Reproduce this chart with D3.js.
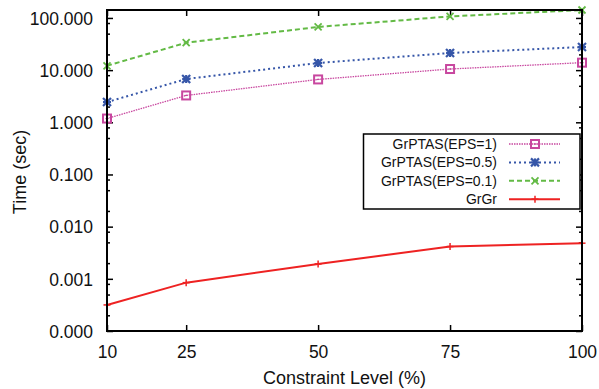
<!DOCTYPE html>
<html>
<head>
<meta charset="utf-8">
<script src="https://cdn.jsdelivr.net/npm/d3@7"></script>
<style>
  html, body { margin: 0; padding: 0; background: #fff; }
  svg text { font-family: "Liberation Sans", Arial, Helvetica, sans-serif; fill: #111; }
</style>
</head>
<body>
<svg id="chart" width="599" height="389"></svg>
<script>
// ---- Data ----
const categories = [10, 25, 50, 75, 100];
const xTickLabels = ["10", "25", "50", "75", "100"];
const yTickValues = [0.0001, 0.001, 0.01, 0.1, 1, 10, 100];
const yTickLabels = ["0.000", "0.001", "0.010", "0.100", "1.000", "10.000", "100.000"];
const seriesNames = ["GrPTAS(EPS=1)", "GrPTAS(EPS=0.5)", "GrPTAS(EPS=0.1)", "GrGr"];
const eps1 = [1.18, 3.27, 6.63, 10.5, 13.9];
const eps05 = [2.44, 6.75, 13.7, 21.3, 27.7];
const eps01 = [12.1, 33.6, 67.2, 107, 142];
const grgr = [0.000316, 0.000845, 0.00193, 0.00415, 0.00482];
const yDomain = [0.0001, 142];
const xDomain = [10, 100];

// ---- Styles ----
const styles = [
  { color: "#c8479f", width: 1.3, dash: "1.5,1", marker: "square" },
  { color: "#3656a8", width: 2, dash: "2,3", marker: "star" },
  { color: "#63ba45", width: 2, dash: "5,3", marker: "x" },
  { color: "#ee2222", width: 2, dash: null, marker: "plus" }
];
const seriesValues = [eps1, eps05, eps01, grgr];

const svg = d3.select("#chart");
const L = 107, R = 582, T = 10, B = 331;

const x = d3.scaleLinear().domain(xDomain).range([L, R]);
const y = d3.scaleLog().domain(yDomain).range([B, T]);

// minor ticks (2,5,8 per decade)
const minor = [];
for (let e = -4; e <= 2; e++) {
  [2, 5, 8].forEach(m => {
    const v = m * Math.pow(10, e);
    if (v > yDomain[0] && v < yDomain[1]) minor.push(v);
  });
}

const g = svg.append("g");

// Y axis left (labels + inward ticks)
const yAxisL = d3.axisLeft(y).tickValues(yTickValues)
  .tickFormat((d, i) => yTickLabels[i]).tickSize(-6).tickPadding(14);
const gyl = g.append("g").attr("transform", `translate(${L},0)`).call(yAxisL);
gyl.select(".domain").remove();
gyl.selectAll("text").style("font-size", "17.5px").attr("dy", "0.36em");
gyl.selectAll("line").attr("stroke", "#000").attr("stroke-width", 1.5);

const yMinorL = d3.axisLeft(y).tickValues(minor).tickFormat("").tickSize(-3);
const gml = g.append("g").attr("transform", `translate(${L},0)`).call(yMinorL);
gml.select(".domain").remove();
gml.selectAll("line").attr("stroke", "#000").attr("stroke-width", 1.5);

// Y axis right mirror
const yAxisR = d3.axisRight(y).tickValues(yTickValues).tickFormat("").tickSize(-6);
const gyr = g.append("g").attr("transform", `translate(${R},0)`).call(yAxisR);
gyr.select(".domain").remove();
gyr.selectAll("line").attr("stroke", "#000").attr("stroke-width", 1.5);
const yMinorR = d3.axisRight(y).tickValues(minor).tickFormat("").tickSize(-3);
const gmr = g.append("g").attr("transform", `translate(${R},0)`).call(yMinorR);
gmr.select(".domain").remove();
gmr.selectAll("line").attr("stroke", "#000").attr("stroke-width", 1.5);

// X axis bottom
const xAxisB = d3.axisBottom(x).tickValues(categories)
  .tickFormat((d, i) => xTickLabels[i]).tickSize(-6).tickPadding(14);
const gxb = g.append("g").attr("transform", `translate(0,${B})`).call(xAxisB);
gxb.select(".domain").remove();
gxb.selectAll("text").style("font-size", "17.5px").attr("dy", "0.72em");
gxb.selectAll("line").attr("stroke", "#000").attr("stroke-width", 1.5);

// X axis top mirror
const xAxisT = d3.axisTop(x).tickValues(categories).tickFormat("").tickSize(-6);
const gxt = g.append("g").attr("transform", `translate(0,${T})`).call(xAxisT);
gxt.select(".domain").remove();
gxt.selectAll("line").attr("stroke", "#000").attr("stroke-width", 1.5);

// Marker drawing
function drawMarker(sel, type, color) {
  if (type === "square") {
    sel.append("rect").attr("x", -4).attr("y", -4).attr("width", 8).attr("height", 8)
      .attr("fill", "none").attr("stroke", color).attr("stroke-width", 2);
    sel.append("line").attr("x1", -1.5).attr("x2", 1.5).attr("y1", 0).attr("y2", 0)
      .attr("stroke", color).attr("stroke-width", 1.2);
  } else if (type === "star") {
    const s = 4;
    [[-s, 0, s, 0], [0, -s, 0, s], [-s, -s, s, s], [-s, s, s, -s]].forEach(c => {
      sel.append("line").attr("x1", c[0]).attr("y1", c[1]).attr("x2", c[2]).attr("y2", c[3])
        .attr("stroke", color).attr("stroke-width", 2.2);
    });
  } else if (type === "x") {
    const s = 3.5;
    [[-s, -s, s, s], [-s, s, s, -s]].forEach(c => {
      sel.append("line").attr("x1", c[0]).attr("y1", c[1]).attr("x2", c[2]).attr("y2", c[3])
        .attr("stroke", color).attr("stroke-width", 1.8);
    });
  } else if (type === "plus") {
    const s = 3.5;
    [[-s, 0, s, 0], [0, -s, 0, s]].forEach(c => {
      sel.append("line").attr("x1", c[0]).attr("y1", c[1]).attr("x2", c[2]).attr("y2", c[3])
        .attr("stroke", color).attr("stroke-width", 1.5);
    });
  }
}

// Series lines
const line = d3.line().x((d, i) => x(categories[i])).y(d => y(d));
seriesValues.forEach((vals, si) => {
  const st = styles[si];
  const p = g.append("path").datum(vals).attr("d", line)
    .attr("fill", "none").attr("stroke", st.color).attr("stroke-width", st.width);
  if (st.dash) p.attr("stroke-dasharray", st.dash);
  vals.forEach((v, i) => {
    const mg = g.append("g").attr("transform", `translate(${x(categories[i])},${y(v)})`);
    drawMarker(mg, st.marker, st.color);
  });
});

// Frame
g.append("rect").attr("x", L).attr("y", T).attr("width", R - L).attr("height", B - T)
  .attr("fill", "none").attr("stroke", "#000").attr("stroke-width", 2);

// Legend
const lg = g.append("g");
lg.append("rect").attr("x", 363.5).attr("y", 134).attr("width", 216.5).attr("height", 75)
  .attr("fill", "#fff").attr("stroke", "#000").attr("stroke-width", 1.5);
const legendY = [144, 162.4, 180.8, 199.2];
seriesNames.forEach((name, si) => {
  const st = styles[si];
  const yy = legendY[si];
  lg.append("text").attr("x", 497).attr("y", yy).attr("dy", "0.36em")
    .attr("text-anchor", "end").style("font-size", "14px").text(name);
  const l = lg.append("line").attr("x1", 509).attr("x2", 560).attr("y1", yy).attr("y2", yy)
    .attr("stroke", st.color).attr("stroke-width", st.width);
  if (st.dash) l.attr("stroke-dasharray", st.dash);
  const mg = lg.append("g").attr("transform", `translate(535,${yy})`);
  drawMarker(mg, st.marker, st.color);
});

// Axis titles
svg.append("text").attr("transform", "translate(19.5,172) rotate(-90)")
  .attr("text-anchor", "middle").attr("dy", "0.36em").style("font-size", "18px").text("Time (sec)");
svg.append("text").attr("x", 344.5).attr("y", 384)
  .attr("text-anchor", "middle").style("font-size", "18px").text("Constraint Level (%)");
</script>
</body>
</html>
